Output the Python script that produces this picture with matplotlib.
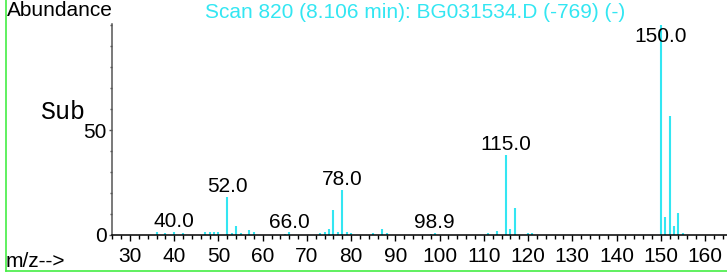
import numpy as np
import matplotlib
matplotlib.use("Agg")
import matplotlib.pyplot as plt
from matplotlib.lines import Line2D
from matplotlib.ticker import MultipleLocator, FixedLocator

plt.rcParams['font.family'] = ['Liberation Sans', 'DejaVu Sans']
plt.rcParams['font.size'] = 15

# m/z values and relative abundance
mz = [36, 38, 40, 42, 47, 48, 49, 50, 52, 53, 54, 55, 57, 58, 65, 66,
      73, 74, 75, 76, 77, 78, 79, 80, 85, 87, 88, 98, 98.9,
      111, 113, 115, 116, 117, 120, 121,
      150, 151, 152, 153, 154, 155]
abundance = [1.2, 0.8, 1.6, 0.8, 1.5, 1.5, 1.2, 1.5, 18.0, 1.0, 4.5, 1.0, 2.5, 1.2, 0.6, 1.2,
             0.8, 1.5, 3.0, 12.0, 1.5, 21.3, 1.5, 1.0, 0.8, 3.0, 1.0, 0.6, 1.0,
             1.0, 2.0, 38.3, 3.0, 12.8, 1.0, 1.0,
             100.0, 8.7, 56.8, 4.3, 10.6, 1.0]

labelled = [40.0, 52.0, 66.0, 78.0, 98.9, 115.0, 150.0]
title = "Scan 820 (8.106 min): BG031534.D (-769) (-)"
cyan = '#33e6f2'

fig = plt.figure(figsize=(7.27, 2.73), dpi=100)
ax = fig.add_axes([112/727, 38/273, 615/727, 211/273])

ax.vlines(mz, 0, abundance, colors=cyan, linewidth=1.5)

# peak labels above the tallest peaks (kept inside the frame)
peak_h = dict(zip(mz, abundance))
for m in labelled:
    y = min(peak_h[m], 89.5)
    ax.annotate(f"{m:.1f}", (m, y), xytext=(0, 3.5), textcoords='offset points',
                ha='center', va='baseline', color='black', fontsize=15)

ax.set_xlim(25.93, 164.98)
ax.set_ylim(0, 100.5)

ax.spines['top'].set_visible(False)
ax.spines['right'].set_visible(False)
ax.spines['left'].set_color('#555555')
ax.spines['left'].set_linewidth(1.1)
ax.spines['bottom'].set_linewidth(1.1)

ax.xaxis.set_major_locator(MultipleLocator(10))
ax.xaxis.set_minor_locator(MultipleLocator(2))
ax.yaxis.set_major_locator(FixedLocator([0, 50]))
ax.yaxis.set_minor_locator(MultipleLocator(10))
ax.tick_params(axis='x', which='major', length=4.5, width=1, pad=4, labelsize=15)
ax.tick_params(axis='x', which='minor', length=3, width=1)
ax.tick_params(axis='y', which='major', length=2.5, width=1, pad=1.5, color='#555555', labelsize=15)
ax.tick_params(axis='y', which='minor', length=1.5, width=1, color='#555555')
ax.patch.set_alpha(0)

fig.text(7/727, 1 - 16/273, "Abundance", ha='left', va='baseline')
fig.text(205/727, 1 - 18/273, title, ha='left', va='baseline', color=cyan)
fig.text(40/727, 1 - 119/273, "Sub", ha='left', va='baseline', fontsize=18,
         family=['Liberation Mono', 'DejaVu Sans Mono'])
fig.text(6/727, 1 - 267/273, "m/z-->", ha='left', va='baseline')

# green frame on left and bottom
fig.add_artist(Line2D([6/727, 6/727], [1, 2/273], color='#44ee44', linewidth=1.2))
fig.add_artist(Line2D([6/727, 1], [2/273, 2/273], color='#44ee44', linewidth=1.2))

fig.savefig("out.png", dpi=100)
